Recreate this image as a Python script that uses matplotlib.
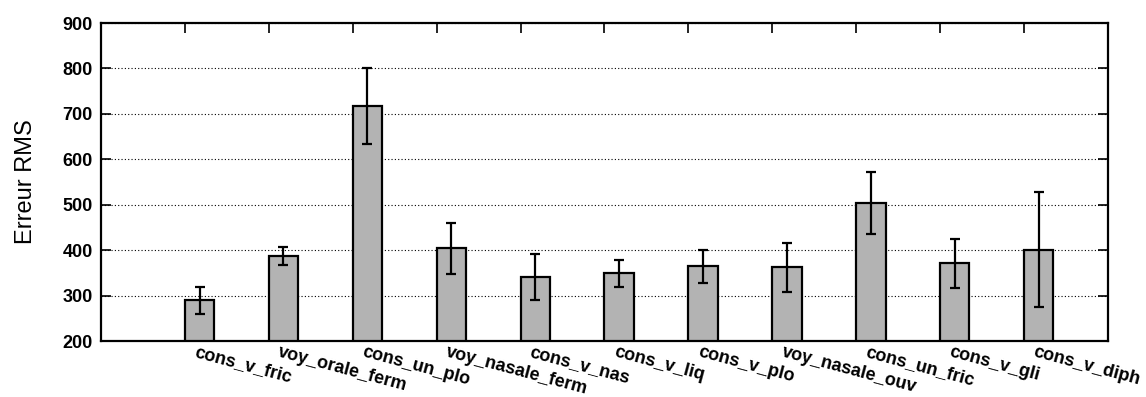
import matplotlib
matplotlib.use("Agg")
import matplotlib.pyplot as plt
import matplotlib.transforms as mtransforms
import numpy as np

plt.rcParams['font.family'] = ['Liberation Sans', 'DejaVu Sans']

categories = ["cons_v_fric", "voy_orale_ferm", "cons_un_plo", "voy_nasale_ferm",
              "cons_v_nas", "cons_v_liq", "cons_v_plo", "voy_nasale_ouv",
              "cons_un_fric", "cons_v_gli", "cons_v_diph"]
rms = [291, 387, 717, 404, 340, 349, 365, 362, 503, 371, 401]
err_low = [32, 20, 83, 57, 50, 29, 38, 53, 68, 55, 126]
err_high = [29, 20, 84, 56, 51, 29, 35, 53, 69, 53, 126]

pos = np.arange(1, len(categories) + 1)
width = 0.35

fig = plt.figure(figsize=(11.46, 3.97), dpi=100)
ax = fig.add_axes([0.0881, 0.141, 0.8787, 0.801])

ax.bar(pos, [v - 200 for v in rms], bottom=200, width=width, align='edge',
       color='#b3b3b3', edgecolor='black', linewidth=1.6, zorder=3)
ax.errorbar(pos + width / 2, rms, yerr=[err_low, err_high], fmt='none',
            ecolor='black', elinewidth=1.6, capsize=3.5, capthick=1.6, zorder=4)

ax.set_xlim(0, 12)
ax.set_ylim(200, 900)
ax.set_yticks(range(200, 901, 100))
ax.set_xticks(pos)

ax.tick_params(axis='x', direction='in', top=True, bottom=False, length=7, width=1.2, pad=3)
ax.tick_params(axis='y', direction='in', left=True, right=True, length=7, width=1.2, pad=6)

ax.set_xticklabels(categories, rotation=-15, ha='left', va='top',
                   rotation_mode='anchor', fontsize=13, fontweight='bold')
for lab in ax.get_yticklabels():
    lab.set_fontsize(13)
    lab.set_fontweight('bold')

# labels start a bit right of the tick, like the gnuplot output
offset = mtransforms.ScaledTranslation(0.12, 0.02, fig.dpi_scale_trans)
for lab in ax.get_xticklabels():
    lab.set_transform(lab.get_transform() + offset)

ax.yaxis.grid(True, linestyle=(0, (1, 2)), color='black', linewidth=0.8, zorder=0)
ax.set_axisbelow(True)
for s in ax.spines.values():
    s.set_linewidth(1.6)

ax.set_ylabel("Erreur RMS", fontsize=17, labelpad=18)

fig.savefig("out.png", dpi=100)
